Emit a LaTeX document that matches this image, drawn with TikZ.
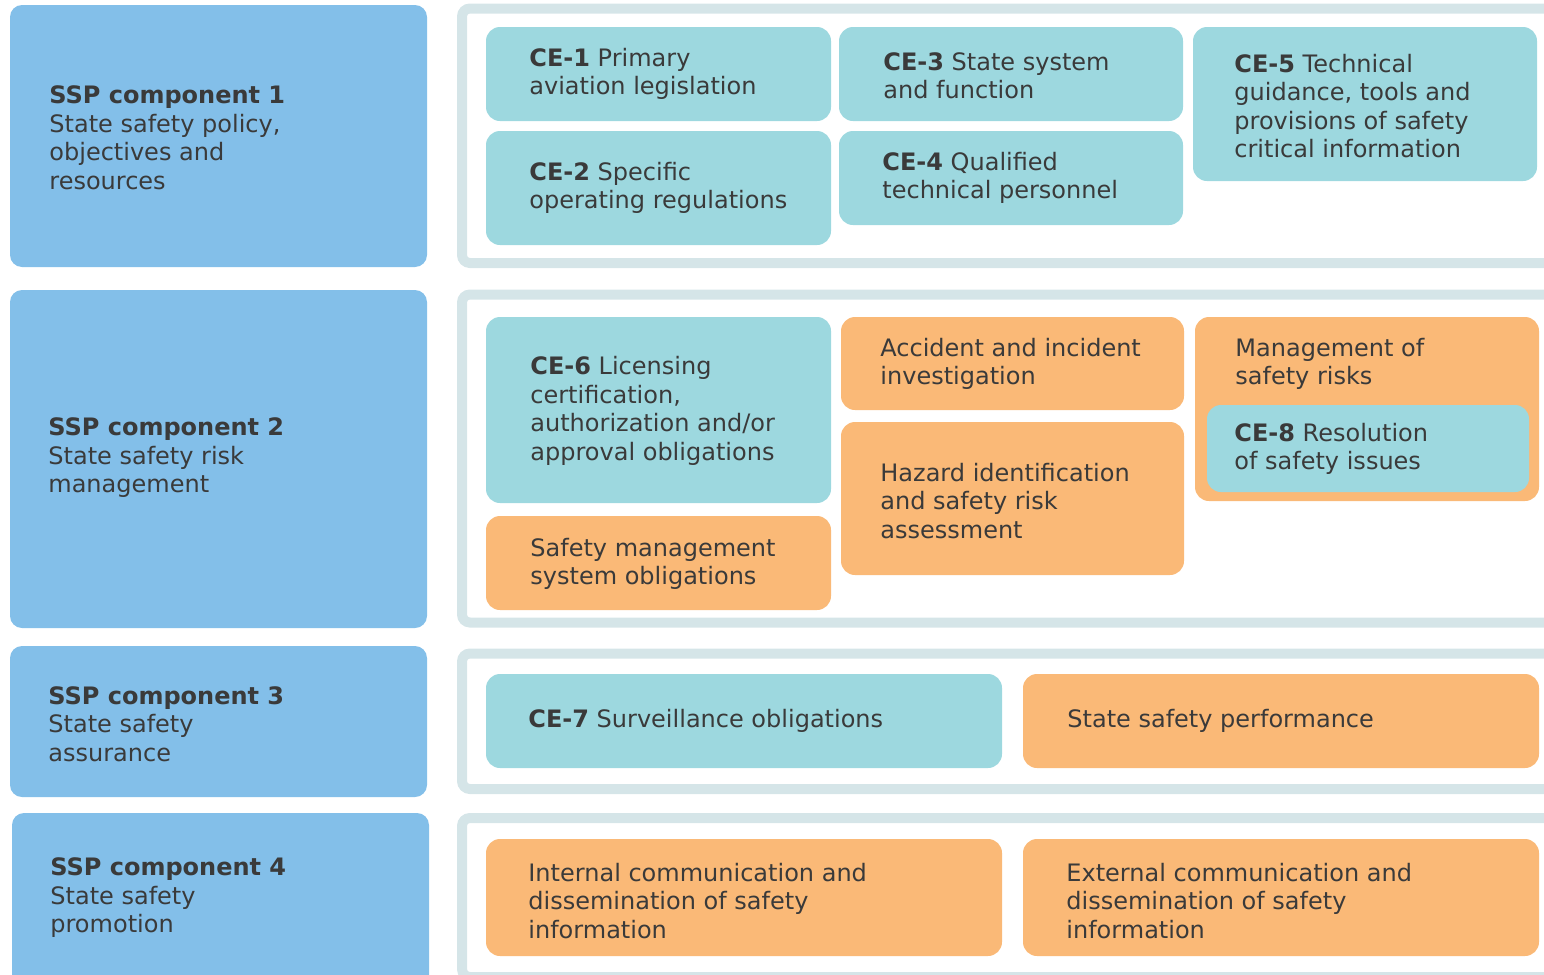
\documentclass[tikz,border=0pt]{standalone}
\usepackage{fontspec}
\setmainfont{DejaVu Sans}
\definecolor{sspblue}{HTML}{83BFE9}
\definecolor{ceteal}{HTML}{9DD8DF}
\definecolor{orng}{HTML}{FAB977}
\definecolor{frm}{HTML}{D5E5E8}
\definecolor{txt}{HTML}{3A3A3A}
\tikzset{
  blubox/.style={fill=sspblue, rounded corners=6pt},
  tealbox/.style={fill=ceteal, rounded corners=7pt},
  orbox/.style={fill=orng, rounded corners=7pt},
  frameband/.style={draw=frm, line width=5pt, rounded corners=4pt},
  lbl/.style={anchor=west, align=left, inner sep=0pt, text=txt, yshift=-1pt,
    font=\fontsize{12}{14.25}\selectfont},
}
\begin{document}
\begin{tikzpicture}[x=0.5pt, y=-0.5pt]
\useasboundingbox (0,0) rectangle (1544,975);
\clip (0,0) rectangle (1544,975);
% frames
\draw[frameband] (462,8.5) rectangle (1580,263);
\draw[frameband] (462,294.5) rectangle (1580,622.5);
\draw[frameband] (462,653.5) rectangle (1580,789);
\draw[frameband] (462,818) rectangle (1580,977);
% left boxes
\fill[blubox] (10,5) rectangle (427,267);
\fill[blubox] (10,290) rectangle (427,628);
\fill[blubox] (10,646) rectangle (427,797);
\fill[blubox] (12,813) rectangle (429,995);
% row 1
\fill[tealbox] (486,27) rectangle (831,121);
\fill[tealbox] (486,131) rectangle (831,245);
\fill[tealbox] (839,27) rectangle (1183,121);
\fill[tealbox] (839,131) rectangle (1183,225);
\fill[tealbox] (1193,27) rectangle (1537,181);
% row 2
\fill[tealbox] (486,317) rectangle (831,503);
\fill[orbox] (486,516) rectangle (831,610);
\fill[orbox] (841,317) rectangle (1184,410);
\fill[orbox] (841,422) rectangle (1184,575);
\fill[orbox] (1195,317) rectangle (1539,501);
\fill[tealbox] (1207,405) rectangle (1529,492);
% row 3
\fill[tealbox] (486,674) rectangle (1002,768);
\fill[orbox] (1023,674) rectangle (1539,768);
% row 4
\fill[orbox] (486,839) rectangle (1002,956);
\fill[orbox] (1023,839) rectangle (1539,956);
% texts
\node[lbl] (s1) at (49,136) {\textbf{SSP component 1}\\State safety policy,\\objectives and\\resources};
\node[lbl] (s2) at (48,456) {\textbf{SSP component 2}\\State safety risk\\management};
\node[lbl] (s3) at (48,722) {\textbf{SSP component 3}\\State safety\\assurance};
\node[lbl] (s4) at (50,896) {\textbf{SSP component 4}\\State safety\\promotion};
\node[lbl] (ce1) at (529,72) {\textbf{CE-1} Primary\\aviation legislation};
\node[lbl] (ce2) at (529,186) {\textbf{CE-2} Specific\\operating regulations};
\node[lbl] (ce3) at (883,74) {\textbf{CE-3} State system\\and function};
\node[lbl] (ce4) at (882,176) {\textbf{CE-4} Qualified\\technical personnel};
\node[lbl] (ce5) at (1234,104) {\textbf{CE-5} Technical\\guidance, tools and\\provisions of safety\\critical information};
\node[lbl] (ce6) at (530,409) {\textbf{CE-6} Licensing\\certification,\\authorization and/or\\approval obligations};
\node[lbl] (sms) at (530,562) {Safety management\\system obligations};
\node[lbl] (acc) at (880,362) {Accident and incident\\investigation};
\node[lbl] (haz) at (880,499) {Hazard identification\\and safety risk\\assessment};
\node[lbl] (msr) at (1235,362) {Management of\\safety risks};
\node[lbl] (ce8) at (1234,447) {\textbf{CE-8} Resolution\\of safety issues};
\node[lbl] (ce7) at (528,719) {\textbf{CE-7} Surveillance obligations};
\node[lbl] (ssp) at (1067,719) {State safety performance};
\node[lbl] (icd) at (528,899) {Internal communication and\\dissemination of safety\\information};
\node[lbl] (ecd) at (1066,899) {External communication and\\dissemination of safety\\information};
\end{tikzpicture}
\end{document}
